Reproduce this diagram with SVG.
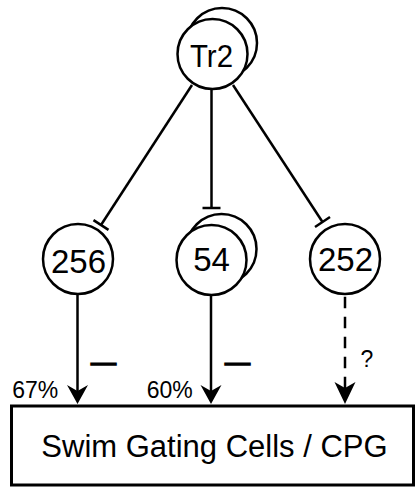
<svg xmlns="http://www.w3.org/2000/svg" width="416" height="488" viewBox="0 0 416 488">
  <style>
    .cell { fill: #fff; stroke: #000; stroke-width: 2.5; }
    .lbl { font-family: "Liberation Sans", Arial, sans-serif; fill: #000; text-anchor: middle; }
    .node { font-size: 33px; }
    .pct { font-size: 23px; }
    .con { stroke: #000; stroke-width: 2.5; fill: none; }
    .head { fill: #000; stroke: none; }
  </style>
  <rect x="0" y="0" width="416" height="488" fill="#fff"/>

  <g id="connectors">
    <!-- Tr2 to 256 (inhibitory T-bar) -->
    <line class="con" x1="192" y1="85" x2="101" y2="225"/>
    <line class="con" x1="93.5" y1="220.1" x2="108.5" y2="229.9"/>
    <!-- Tr2 to 54 -->
    <line class="con" x1="211.5" y1="89" x2="211.5" y2="208"/>
    <line class="con" x1="202.5" y1="208" x2="220.5" y2="208"/>
    <!-- Tr2 to 252 -->
    <line class="con" x1="233" y1="85" x2="322.5" y2="222"/>
    <line class="con" x1="315" y1="227" x2="330" y2="217"/>
    <!-- 256 to CPG -->
    <line class="con" x1="77.5" y1="295" x2="77.5" y2="392"/>
    <polygon class="head" points="67,385 77.5,391 88,385 77.5,404"/>
    <!-- 54 to CPG -->
    <line class="con" x1="211" y1="296" x2="211" y2="392"/>
    <polygon class="head" points="200.5,385 211,391 221.5,385 211,404"/>
    <!-- 252 to CPG (dashed) -->
    <line class="con" x1="345" y1="296.7" x2="345" y2="388" stroke-dasharray="11.6 8.4"/>
    <polygon class="head" points="334.5,382 345,388 355.5,382 345,404"/>
    <!-- labels -->
    <text class="lbl" x="103.5" y="371" font-size="25" stroke="#000" stroke-width="1.6">—</text>
    <text class="lbl" x="237.5" y="371" font-size="25" stroke="#000" stroke-width="1.6">—</text>
    <text class="lbl pct" x="367" y="367">?</text>
    <text class="lbl pct" x="35.3" y="398">67%</text>
    <text class="lbl pct" x="169.7" y="398">60%</text>
  </g>

  <g id="Tr2">
    <circle class="cell" cx="222" cy="43" r="35"/>
    <circle class="cell" cx="212.5" cy="54" r="35"/>
    <text class="lbl" x="211.5" y="66.5" font-size="32" textLength="43" lengthAdjust="spacingAndGlyphs">Tr2</text>
  </g>

  <g id="n256">
    <circle class="cell" cx="78" cy="259" r="35"/>
    <text class="lbl node" x="78.5" y="273">256</text>
  </g>

  <g id="n54">
    <circle class="cell" cx="221.5" cy="249" r="35"/>
    <circle class="cell" cx="211.5" cy="260" r="35"/>
    <text class="lbl node" x="211.5" y="271">54</text>
  </g>

  <g id="n252">
    <circle class="cell" cx="345" cy="259" r="35"/>
    <text class="lbl node" x="345.5" y="271">252</text>
  </g>

  <g id="cpg">
    <rect x="11.5" y="406" width="402" height="79" fill="#fff" stroke="#000" stroke-width="3"/>
    <text class="lbl" x="214.5" y="457" font-size="31">Swim Gating Cells / CPG</text>
  </g>
</svg>
